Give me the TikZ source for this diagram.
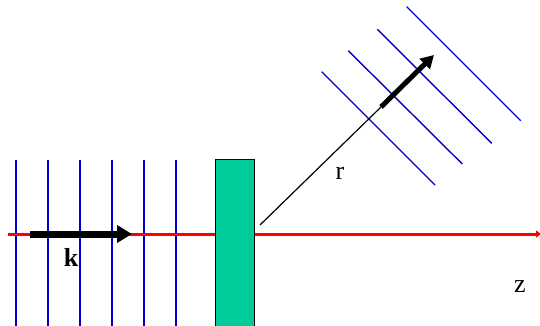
\documentclass[tikz,border=0pt]{standalone}
\usepackage{fontspec}
\setmainfont{Liberation Serif}
\usetikzlibrary{arrows.meta}
\definecolor{wavecol}{RGB}{0,0,204}
\definecolor{slabcol}{RGB}{0,204,153}
\tikzset{
  wave/.style={wavecol, line width=1.4pt},
  axis/.style={red, line width=3pt, -{Triangle[length=5pt,width=7pt]}},
  slab/.style={draw=black, line width=1pt, fill=slabcol, minimum width=39pt, minimum height=170pt, inner sep=0pt},
  kvec/.style={black, line width=7pt, -{Triangle[length=15pt,width=17pt]}},
  rvec/.style={black, line width=5pt, -{Triangle[length=13pt,width=14pt]}},
  lbl/.style={font=\fontsize{26}{30}\selectfont, inner sep=0pt}
}
\begin{document}
\begin{tikzpicture}[x=1pt,y=-1pt]
\useasboundingbox (0,0) rectangle (540,326);
% incoming plane wave
\draw[wave] (16,160) -- (16,330);
\draw[wave] (48,160) -- (48,330);
\draw[wave] (80,160) -- (80,330);
\draw[wave] (112,160) -- (112,330);
\draw[wave] (144,160) -- (144,330);
\draw[wave] (176,160) -- (176,330);
% scattered wave fronts
\draw[wave] (321.7,71.7) -- (435,185);
\draw[wave] (348.3,50.7) -- (462.3,164);
\draw[wave] (377.3,29.3) -- (491.7,143.3);
\draw[wave] (406.7,6.7) -- (520.7,120.7);
% z axis
\coordinate (zstart) at (8,234);
\coordinate (zend) at (541,234);
\draw[axis] (zstart) -- (zend);
\node[lbl] (zlabel) at (520,287) {z};
% sample
\node[slab] (sample) at (234.5,244) {};
% incident k
\coordinate (kstart) at (30,234);
\coordinate (kend) at (132,234);
\draw[kvec] (kstart) -- (kend);
\node[lbl, font=\fontsize{26}{30}\selectfont\bfseries] (klabel) at (71,257) {k};
% scattered direction
\coordinate (rstart) at (260,225);
\coordinate (rmid) at (381,107);
\coordinate (rtip) at (434,55);
\draw[black, line width=1.2pt] (rstart) -- (rmid);
\draw[rvec] (rmid) -- (rtip);
\node[lbl] (rlabel) at (340,173) {r};
\end{tikzpicture}
\end{document}
